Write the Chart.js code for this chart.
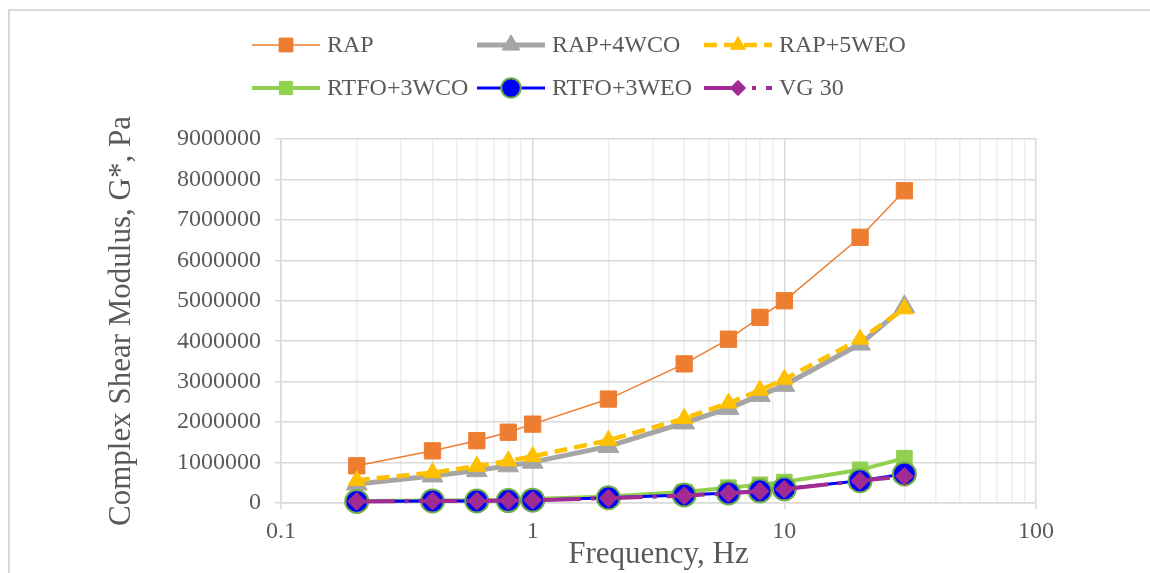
<!DOCTYPE html>
<html lang="en">
  <head>
    <meta charset="UTF-8" />
    <title>Complex Shear Modulus vs Frequency</title>
    <style>
      html, body {
        margin: 0;
        padding: 0;
        background: #fff;
      }
      #wrap {
        width: 1150px;
        height: 573px;
      }
    </style>
  </head>
  <body>
    <div id="wrap">
      <canvas id="modulus" width="1150" height="573"></canvas>
    </div>

    <script src="https://cdn.jsdelivr.net/npm/chart.js"></script>

    <script>
      // Test frequencies, Hz
      const frequency = [0.2, 0.4, 0.6, 0.8, 1, 2, 4, 6, 8, 10, 20, 30];

      // G*, Pa
      const rap = [920000, 1290000, 1540000, 1750000, 1950000, 2570000, 3440000, 4050000, 4590000, 5000000, 6570000, 7720000];
      const rap4wco = [470000, 670000, 800000, 920000, 1010000, 1400000, 1980000, 2340000, 2660000, 2910000, 3930000, 4850000];
      const rap5weo = [560000, 750000, 910000, 1040000, 1150000, 1550000, 2090000, 2470000, 2790000, 3060000, 4050000, 4800000];
      const rtfo3wco = [50000, 60000, 70000, 80000, 100000, 160000, 270000, 380000, 450000, 520000, 820000, 1110000];
      const rtfo3weo = [40000, 50000, 50000, 60000, 70000, 130000, 200000, 250000, 300000, 350000, 550000, 720000];
      const vg30 = [40000, 50000, 50000, 60000, 70000, 120000, 180000, 240000, 290000, 340000, 550000, 660000];

      const xTickLabels = ['0.1', '1', '10', '100'];
      const yTickStep = 1000000;
      const yMax = 9000000;

      const serif = '"Liberation Serif", "Times New Roman", serif';
      const textGray = '#595959';
      const gridMajor = '#d9d9d9';
      const gridMinor = '#eeeeee';

      const isDecade = (v) => Math.abs(Math.log10(v) - Math.round(Math.log10(v))) < 1e-6;

      function pairs(values) {
        return values.map((y, i) => ({ x: frequency[i], y }));
      }

      const series = [
        { label: 'RAP', data: rap, color: '#ED7D31', width: 1.5, style: 'rect', radius: 11.5 },
        { label: 'RAP+4WCO', data: rap4wco, color: '#A5A5A5', width: 5, style: 'triangle', radius: 12 },
        { label: 'RAP+5WEO', data: rap5weo, color: '#FFC000', width: 4.5, style: 'triangle', radius: 10, dash: [13, 7] },
        { label: 'RTFO+3WCO', data: rtfo3wco, color: '#92D050', width: 4, style: 'rect', radius: 11 },
        { label: 'RTFO+3WEO', data: rtfo3weo, color: '#0000FF', width: 3, style: 'circle', radius: 11.5, edge: '#70AD47', edgeWidth: 2 },
        { label: 'VG 30', data: vg30, color: '#A02B93', width: 4, style: 'rectRot', radius: 9, dash: [38, 10, 4, 10] },
      ];

      const datasets = series.map((s, i) => ({
        label: s.label,
        data: pairs(s.data),
        borderColor: s.color,
        backgroundColor: s.color,
        borderWidth: s.width,
        borderDash: s.dash || [],
        pointStyle: s.style,
        pointRadius: s.radius,
        pointHoverRadius: s.radius,
        pointBackgroundColor: s.color,
        pointBorderColor: s.edge || s.color,
        pointBorderWidth: s.edgeWidth || 1,
        tension: 0,
        fill: false,
        clip: false,
        // later series sit on top
        order: series.length - i,
      }));

      // Excel-style legend: line sample with the marker in its middle
      const sampleLegend = {
        id: 'sampleLegend',
        afterDraw(chart) {
          const ctx = chart.ctx;
          const colX = [252, 477, 704];
          const rowY = [45, 88];
          const sampleW = 68;
          chart.data.datasets.forEach((ds, i) => {
            const x0 = colX[i % 3];
            const y = rowY[Math.floor(i / 3)];
            ctx.save();
            ctx.strokeStyle = ds.borderColor;
            ctx.lineWidth = ds.borderWidth;
            ctx.setLineDash(ds.borderDash);
            ctx.beginPath();
            ctx.moveTo(x0, y);
            ctx.lineTo(x0 + sampleW, y);
            ctx.stroke();
            ctx.setLineDash([]);
            ctx.fillStyle = ds.pointBackgroundColor;
            ctx.strokeStyle = ds.pointBorderColor;
            ctx.lineWidth = ds.pointBorderWidth;
            Chart.helpers.drawPoint(
              ctx,
              { pointStyle: ds.pointStyle, radius: ds.pointRadius * 0.85, rotation: 0, borderWidth: ds.pointBorderWidth },
              x0 + sampleW / 2,
              y
            );
            ctx.fillStyle = textGray;
            ctx.font = '24px ' + serif;
            ctx.textAlign = 'left';
            ctx.textBaseline = 'middle';
            ctx.fillText(ds.label, x0 + sampleW + 7, y + 1);
            ctx.restore();
          });
        },
      };

      // thin frame round the whole chart
      const outerFrame = {
        id: 'outerFrame',
        beforeDraw(chart) {
          const ctx = chart.ctx;
          ctx.save();
          ctx.strokeStyle = '#d9d9d9';
          ctx.lineWidth = 2;
          ctx.strokeRect(9, 10, chart.width + 20, chart.height + 20);
          ctx.restore();
        },
      };

      new Chart(document.getElementById('modulus'), {
        type: 'line',
        data: { datasets },
        plugins: [outerFrame, sampleLegend],
        options: {
          responsive: false,
          animation: false,
          layout: {
            padding: { top: 139, right: 114, left: 0, bottom: 0 },
          },
          plugins: {
            legend: { display: false },
            tooltip: { enabled: false },
          },
          scales: {
            x: {
              type: 'logarithmic',
              min: 0.1,
              max: 100,
              afterBuildTicks(scale) {
                const ticks = [];
                for (let e = -1; e <= 1; e++) {
                  for (let m = 1; m <= 9; m++) {
                    ticks.push({ value: m * Math.pow(10, e), major: m === 1 });
                  }
                }
                ticks.push({ value: 100, major: true });
                scale.ticks = ticks;
              },
              afterFit(scale) {
                scale.height = 70;
              },
              border: { color: gridMajor, width: 1.5 },
              grid: {
                color: (c) => (c.tick && isDecade(c.tick.value) ? gridMajor : gridMinor),
                lineWidth: 1.5,
                tickLength: 6,
                tickColor: (c) => (c.tick && isDecade(c.tick.value) ? gridMajor : 'rgba(0,0,0,0)'),
              },
              ticks: {
                autoSkip: false,
                maxRotation: 0,
                padding: 8,
                color: textGray,
                font: { family: serif, size: 24 },
                callback(value) {
                  if (!isDecade(value)) return '';
                  const label = xTickLabels.find((t) => Math.abs(Number(t) - value) < 1e-9);
                  return label || '';
                },
              },
              title: {
                display: true,
                text: 'Frequency, Hz',
                color: textGray,
                font: { family: serif, size: 31 },
                padding: { top: 0, bottom: 0 },
              },
            },
            y: {
              min: 0,
              max: yMax,
              afterFit(scale) {
                scale.width = 281;
              },
              border: { color: gridMajor, width: 1.5 },
              grid: {
                color: gridMajor,
                lineWidth: 1.5,
                tickLength: 6,
              },
              ticks: {
                stepSize: yTickStep,
                padding: 14,
                color: textGray,
                font: { family: serif, size: 24 },
                callback: (v) => String(v),
              },
              title: {
                display: true,
                text: 'Complex Shear Modulus, G*, Pa',
                color: textGray,
                font: { family: serif, size: 31 },
                padding: { top: 103, bottom: 0 },
              },
            },
          },
        },
      });
    </script>
  </body>
</html>
